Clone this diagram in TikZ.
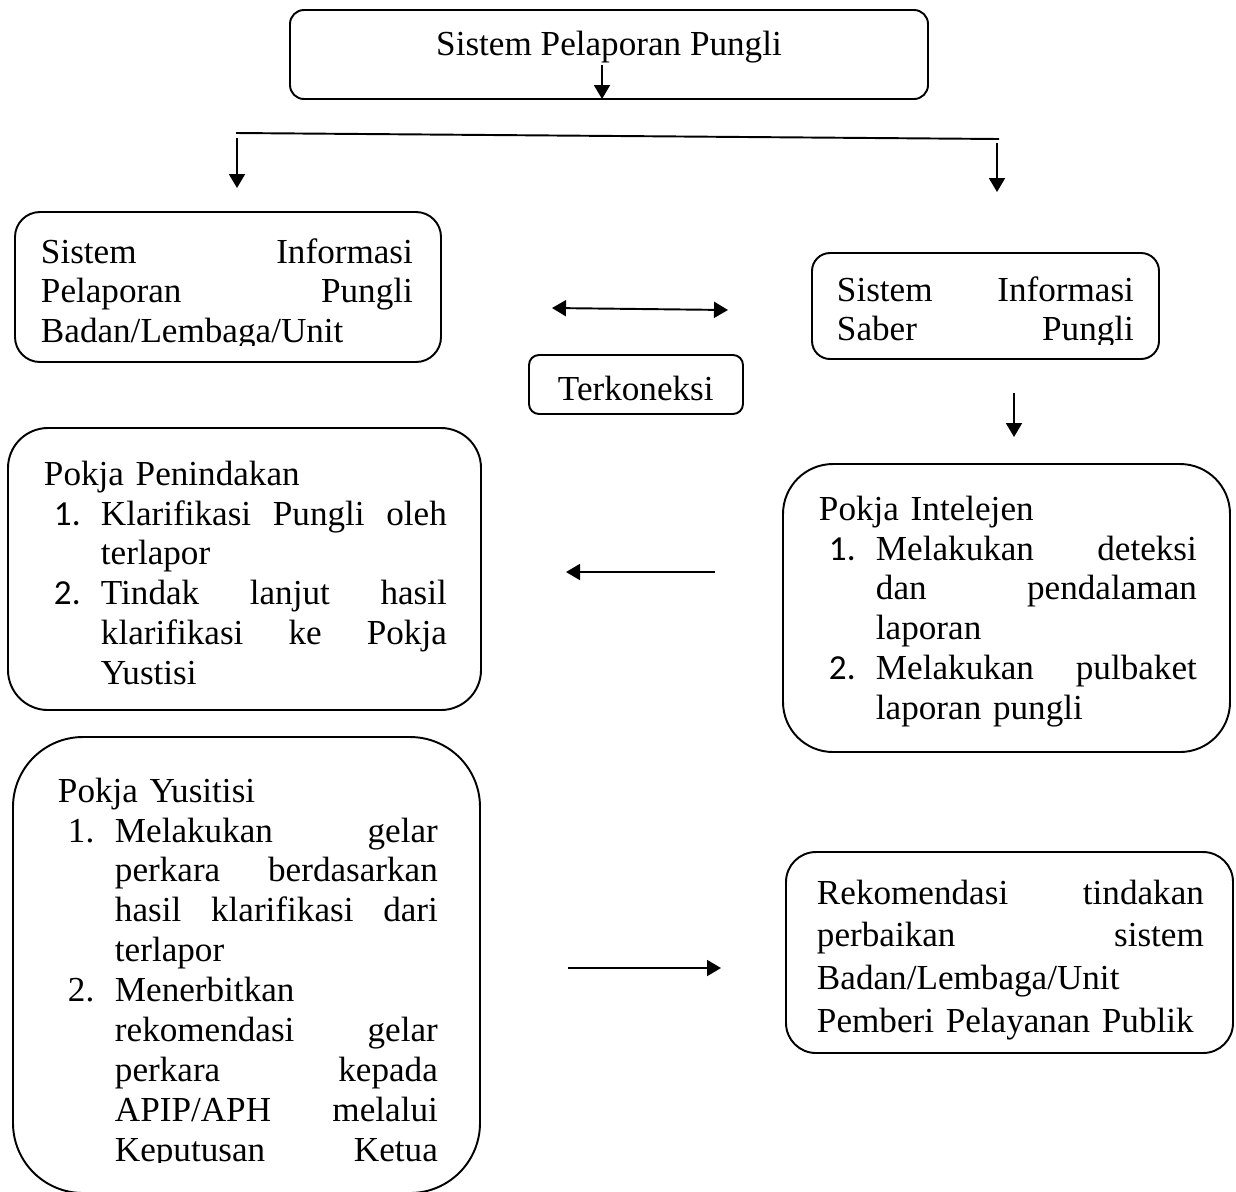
\documentclass[tikz,border=0pt]{standalone}
\usepackage{fontspec}
\setmainfont{Liberation Serif}
\newfontfamily\numfont{Carlito}
\usetikzlibrary{arrows.meta,fit}

\newcommand\nomor[1]{\hspace*{0.2cm}\makebox[0.94cm][l]{#1}}
\newcommand\lanjut{\hspace*{1.14cm}}

\begin{document}
\begin{tikzpicture}[x=0.02cm, y=-0.02cm, line width=1.1pt,
    box/.style={draw, rectangle, rounded corners=#1, inner sep=0pt},
    txt/.style={anchor=base west, inner sep=0pt,
                font=\fontsize{20pt}{22.76pt}\selectfont},
    panah/.style={-{Triangle[length=0.28cm,width=0.32cm]}},
    dua panah/.style={{Triangle[length=0.28cm,width=0.32cm]}-{Triangle[length=0.28cm,width=0.32cm]}}]

\useasboundingbox (0,0) rectangle (1236,1191);

% kotak-kotak
\node[box=0.28cm, fit={(290,10) (928,99)}] (sysTop) {};
\node[box=0.5cm, fit={(15,212) (441,362)}] (sysLapor) {};
\node[box=0.36cm, fit={(812,253) (1159,359)}] (sysSaber) {};
\node[box=0.2cm, fit={(529,355) (743,414)}] (konek) {};
\node[box=0.8cm, fit={(8,428) (481,710)}] (pokjaTindak) {};
\node[box=1cm, fit={(783,464) (1230,752)}] (pokjaIntel) {};
\node[box=1.4cm, fit={(13,737) (480,1193)}] (pokjaYus) {};
\node[box=0.6cm, fit={(786,852) (1233,1053)}] (rekom) {};

% teks
\node[txt, anchor=base] (sysTopTxt) at (609,55) {Sistem Pelaporan Pungli};

\begin{scope}
  \clip (15,215) rectangle (441,345);
  \node[txt, text width=7.44cm] (sysLaporTxt) at (40,263)
    {Sistem\hfill Informasi\\ Pelaporan\hfill Pungli\\ Badan/Lembaga/Unit};
\end{scope}

\begin{scope}
  \clip (812,256) rectangle (1159,344);
  \node[txt, text width=5.94cm] (sysSaberTxt) at (836,301)
    {Sistem\hfill Informasi\\ Saber\hfill Pungli};
\end{scope}

\node[txt] (konekTxt) at (557,400) {Terkoneksi};

\node[txt, text width=8.06cm] (pokjaTindakTxt) at (43,485)
  {Pokja Penindakan\\
   \nomor{\numfont 1.}Klarifikasi\hfill Pungli\hfill oleh\\
   \lanjut terlapor\\
   \nomor{\numfont 2.}Tindak\hfill lanjut\hfill hasil\\
   \lanjut klarifikasi\hfill ke\hfill Pokja\\
   \lanjut Yustisi};

\node[txt, text width=7.56cm] (pokjaIntelTxt) at (818,520)
  {Pokja Intelejen\\
   \nomor{\numfont 1.}Melakukan\hfill deteksi\\
   \lanjut dan\hfill pendalaman\\
   \lanjut laporan\\
   \nomor{\numfont 2.}Melakukan\hfill pulbaket\\
   \lanjut laporan pungli};

\begin{scope}
  \clip (13,740) rectangle (480,1162);
  \node[txt, text width=7.6cm] (pokjaYusTxt) at (57,802)
    {Pokja Yusitisi\\
     \nomor{1.}Melakukan\hfill gelar\\
     \lanjut perkara\hfill berdasarkan\\
     \lanjut hasil\hfill klarifikasi\hfill dari\\
     \lanjut terlapor\\
     \nomor{2.}Menerbitkan\\
     \lanjut rekomendasi\hfill gelar\\
     \lanjut perkara\hfill kepada\\
     \lanjut APIP/APH\hfill melalui\\
     \lanjut Keputusan\hfill Ketua};
\end{scope}

\node[txt, text width=7.74cm, font=\fontsize{20pt}{24.4pt}\selectfont] (rekomTxt) at (816,904)
  {Rekomendasi\hfill tindakan\\
   perbaikan\hfill sistem\\
   Badan/Lembaga/Unit\\
   Pemberi Pelayanan Publik};

% titik-titik ujung panah
\coordinate (atasMulai) at (602,65);
\coordinate (atasUjung) at (602,99);
\coordinate (pisahKiri) at (236,133);
\coordinate (pisahKanan) at (999,139);
\coordinate (kiriMulai) at (237,138);
\coordinate (kiriUjung) at (237,188);
\coordinate (kananMulai) at (997,143);
\coordinate (kananUjung) at (997,192);
\coordinate (konekKiri) at (552,308);
\coordinate (konekKanan) at (728,310);
\coordinate (saberMulai) at (1014,393);
\coordinate (saberUjung) at (1014,437);
\coordinate (intelMulai) at (715,572);
\coordinate (intelUjung) at (566,572);
\coordinate (yusMulai) at (568,968);
\coordinate (yusUjung) at (721,968);

% panah
\draw[panah] (atasMulai) -- (atasUjung);
\draw (pisahKiri) -- (pisahKanan);
\draw[panah] (kiriMulai) -- (kiriUjung);
\draw[panah] (kananMulai) -- (kananUjung);
\draw[dua panah] (konekKiri) -- (konekKanan);
\draw[panah] (saberMulai) -- (saberUjung);
\draw[panah] (intelMulai) -- (intelUjung);
\draw[panah] (yusMulai) -- (yusUjung);

\end{tikzpicture}
\end{document}
